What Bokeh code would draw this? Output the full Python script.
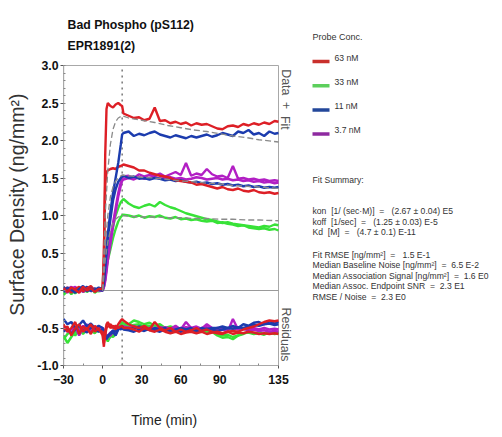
import subprocess
from bokeh.plotting import figure
from bokeh.models import Range1d, FixedTicker
from bokeh.core.properties import value
from bokeh.embed import file_html
from bokeh.resources import INLINE

try:
    _fc = subprocess.run(["fc-list"], capture_output=True, text=True).stdout
except Exception:
    _fc = ""
HAS_NARROW = "Liberation Sans Narrow" in _fc
NARROW = "Liberation Sans Narrow" if HAS_NARROW else "Liberation Sans"
SANS = "Liberation Sans"
K = 1.0 if HAS_NARROW else 0.82


def fs(px):
    return f"{px * K:.1f}px"


# ---------------- data ----------------
TIME = [-30, -27, -24, -21, -18, -15, -12, -9, -6, -3,
        0, 1, 2, 3, 4, 6, 8, 10, 12, 14, 15, 16,
        20, 24, 28, 32, 36, 40, 44, 48, 52, 56,
        60, 64, 68, 72, 76, 80, 84, 88, 92, 96,
        100, 104, 108, 112, 116, 120, 124, 128, 132, 135]

RED_1 = [0.03, -0.02, 0.04, 0.01, -0.03, 0.05, 0.00, 0.03, -0.02, 0.02,
         0.02, 0.40, 1.80, 2.42, 2.50, 2.46, 2.44, 2.48, 2.50, 2.47, 2.46, 2.36,
         2.33, 2.30, 2.31, 2.27, 2.29, 2.44, 2.26, 2.27, 2.23, 2.25,
         2.22, 2.24, 2.20, 2.23, 2.21, 2.22, 2.19, 2.16, 2.15, 2.19,
         2.20, 2.18, 2.22, 2.20, 2.23, 2.21, 2.24, 2.22, 2.26, 2.25]
RED_2 = [0.01, 0.04, -0.03, 0.02, 0.05, -0.01, 0.03, 0.06, 0.00, 0.03,
         0.03, 0.50, 1.40, 1.58, 1.60, 1.62, 1.63, 1.62, 1.65, 1.66, 1.67, 1.68,
         1.66, 1.64, 1.60, 1.60, 1.57, 1.55, 1.53, 1.52, 1.50, 1.47,
         1.46, 1.45, 1.44, 1.41, 1.42, 1.40, 1.38, 1.36, 1.38, 1.35,
         1.34, 1.36, 1.33, 1.32, 1.34, 1.31, 1.30, 1.31, 1.29, 1.30]
BLUE_1 = [-0.02, 0.04, 0.01, -0.03, 0.02, 0.06, -0.01, 0.03, 0.00, 0.04,
          0.02, 0.15, 0.35, 0.55, 0.75, 1.05, 1.30, 1.50, 1.70, 1.95, 2.08, 2.10,
          2.12, 2.06, 2.09, 2.07, 2.10, 2.12, 2.08, 2.06, 2.04, 2.07,
          2.05, 2.03, 2.06, 2.04, 2.06, 2.08, 2.05, 2.07, 2.10, 2.08,
          2.06, 2.12, 2.10, 2.14, 2.08, 2.10, 2.06, 2.12, 2.09, 2.10]
BLUE_2 = [0.05, 0.00, 0.03, -0.02, 0.04, 0.01, 0.05, -0.01, 0.03, 0.01,
          0.00, 0.10, 0.30, 0.50, 0.70, 0.95, 1.20, 1.35, 1.45, 1.50, 1.52, 1.53,
          1.50, 1.52, 1.49, 1.50, 1.48, 1.50, 1.49, 1.47, 1.48, 1.46,
          1.47, 1.45, 1.44, 1.45, 1.43, 1.44, 1.42, 1.43, 1.41, 1.42,
          1.40, 1.41, 1.39, 1.40, 1.38, 1.39, 1.37, 1.38, 1.37, 1.38]
MAG_1 = [0.02, -0.03, 0.03, 0.05, -0.02, 0.01, 0.04, -0.01, 0.02, 0.00,
         0.00, 0.05, 0.15, 0.30, 0.45, 0.70, 0.90, 1.10, 1.30, 1.45, 1.50, 1.52,
         1.53, 1.50, 1.55, 1.52, 1.54, 1.53, 1.56, 1.52, 1.55, 1.58,
         1.54, 1.70, 1.53, 1.56, 1.54, 1.62, 1.55, 1.52, 1.53, 1.50,
         1.66, 1.49, 1.50, 1.48, 1.49, 1.47, 1.48, 1.46, 1.47, 1.46]
MAG_2 = [-0.01, 0.02, 0.05, 0.00, 0.03, -0.02, 0.02, 0.04, -0.01, 0.01,
         0.00, 0.04, 0.12, 0.25, 0.40, 0.62, 0.85, 1.05, 1.25, 1.40, 1.46, 1.48,
         1.50, 1.48, 1.51, 1.49, 1.50, 1.52, 1.49, 1.50, 1.51, 1.49,
         1.50, 1.48, 1.49, 1.51, 1.50, 1.48, 1.49, 1.50, 1.48, 1.49,
         1.47, 1.48, 1.46, 1.47, 1.45, 1.46, 1.44, 1.45, 1.43, 1.44]
GREEN_1 = [-0.04, 0.02, -0.05, 0.01, 0.03, -0.02, 0.00, 0.04, -0.03, 0.01,
           0.00, 0.10, 0.25, 0.40, 0.50, 0.70, 0.85, 1.00, 1.10, 1.18, 1.20, 1.22,
           1.16, 1.12, 1.10, 1.13, 1.15, 1.12, 1.18, 1.14, 1.11, 1.09,
           1.06, 1.03, 1.01, 0.99, 0.97, 0.95, 0.94, 0.92, 0.90, 0.91,
           0.89, 0.88, 0.87, 0.86, 0.85, 0.84, 0.86, 0.85, 0.88, 0.87]
GREEN_2 = [-0.06, -0.01, 0.02, -0.04, 0.01, 0.03, -0.02, 0.02, 0.00, -0.01,
           0.00, 0.05, 0.15, 0.30, 0.40, 0.55, 0.70, 0.82, 0.92, 0.98, 1.00, 1.01,
           1.00, 0.98, 1.00, 0.97, 0.99, 0.98, 1.00, 0.97, 0.96, 0.98,
           0.95, 0.96, 0.94, 0.95, 0.93, 0.92, 0.93, 0.90, 0.91, 0.89,
           0.88, 0.86, 0.87, 0.84, 0.83, 0.82, 0.83, 0.81, 0.82, 0.80]

# residuals (plotted with offset, around -0.5)
RES_RED_1 = [-0.45, -0.55, -0.50, -0.42, -0.58, -0.48, -0.52, -0.45, -0.55, -0.50,
             -0.60, -0.75, -0.55, -0.45, -0.42, -0.50, -0.47, -0.52, -0.45, -0.40, -0.38, -0.40,
             -0.45, -0.48, -0.50, -0.47, -0.52, -0.42, -0.50, -0.53, -0.50, -0.55,
             -0.52, -0.55, -0.53, -0.50, -0.54, -0.52, -0.55, -0.57, -0.58, -0.55,
             -0.54, -0.55, -0.52, -0.50, -0.48, -0.45, -0.42, -0.40, -0.41, -0.40]
RES_RED_2 = [-0.52, -0.48, -0.60, -0.50, -0.45, -0.55, -0.50, -0.58, -0.47, -0.53,
             -0.55, -0.70, -0.60, -0.50, -0.48, -0.45, -0.50, -0.47, -0.50, -0.48, -0.47, -0.50,
             -0.50, -0.52, -0.55, -0.50, -0.53, -0.55, -0.52, -0.55, -0.57, -0.55,
             -0.58, -0.56, -0.55, -0.57, -0.55, -0.58, -0.56, -0.55, -0.57, -0.55,
             -0.58, -0.56, -0.57, -0.55, -0.56, -0.58, -0.57, -0.58, -0.57, -0.58]
RES_BLUE_1 = [-0.38, -0.45, -0.42, -0.50, -0.46, -0.40, -0.48, -0.44, -0.50, -0.47,
              -0.50, -0.55, -0.60, -0.62, -0.60, -0.58, -0.55, -0.60, -0.52, -0.50, -0.48, -0.50,
              -0.52, -0.50, -0.48, -0.50, -0.53, -0.50, -0.52, -0.50, -0.54, -0.52,
              -0.50, -0.52, -0.50, -0.53, -0.50, -0.52, -0.50, -0.50, -0.48, -0.50,
              -0.47, -0.50, -0.45, -0.47, -0.43, -0.42, -0.45, -0.41, -0.44, -0.42]
RES_BLUE_2 = [-0.55, -0.50, -0.58, -0.52, -0.47, -0.53, -0.56, -0.49, -0.52, -0.55,
              -0.52, -0.58, -0.62, -0.65, -0.62, -0.57, -0.53, -0.55, -0.50, -0.52, -0.50, -0.52,
              -0.53, -0.55, -0.52, -0.54, -0.51, -0.53, -0.55, -0.52, -0.54, -0.53,
              -0.55, -0.53, -0.52, -0.54, -0.53, -0.51, -0.52, -0.54, -0.52, -0.50,
              -0.51, -0.49, -0.50, -0.48, -0.46, -0.47, -0.45, -0.44, -0.46, -0.45]
RES_MAG_1 = [-0.50, -0.55, -0.52, -0.48, -0.60, -0.50, -0.45, -0.55, -0.50, -0.52,
             -0.52, -0.55, -0.60, -0.65, -0.62, -0.60, -0.55, -0.58, -0.50, -0.48, -0.47, -0.48,
             -0.50, -0.47, -0.52, -0.49, -0.51, -0.50, -0.53, -0.49, -0.51, -0.47,
             -0.52, -0.42, -0.50, -0.48, -0.51, -0.45, -0.50, -0.53, -0.52, -0.55,
             -0.38, -0.52, -0.50, -0.53, -0.50, -0.52, -0.50, -0.52, -0.51, -0.52]
RES_MAG_2 = [-0.48, -0.52, -0.57, -0.50, -0.53, -0.47, -0.55, -0.50, -0.53, -0.49,
             -0.50, -0.52, -0.57, -0.62, -0.60, -0.56, -0.54, -0.55, -0.50, -0.49, -0.48, -0.49,
             -0.50, -0.51, -0.49, -0.52, -0.50, -0.51, -0.49, -0.50, -0.52, -0.50,
             -0.51, -0.49, -0.50, -0.52, -0.50, -0.49, -0.51, -0.50, -0.52, -0.51,
             -0.50, -0.52, -0.51, -0.53, -0.52, -0.54, -0.53, -0.55, -0.54, -0.55]
RES_GREEN_1 = [-0.60, -0.70, -0.62, -0.55, -0.50, -0.58, -0.52, -0.56, -0.50, -0.55,
               -0.50, -0.55, -0.62, -0.65, -0.68, -0.60, -0.62, -0.58, -0.52, -0.45, -0.42, -0.44,
               -0.45, -0.40, -0.42, -0.45, -0.43, -0.47, -0.45, -0.50, -0.48, -0.50,
               -0.52, -0.50, -0.53, -0.52, -0.55, -0.53, -0.55, -0.60, -0.63, -0.62,
               -0.65, -0.60, -0.58, -0.55, -0.57, -0.56, -0.58, -0.55, -0.57, -0.56]
RES_GREEN_2 = [-0.65, -0.58, -0.55, -0.60, -0.52, -0.55, -0.50, -0.53, -0.57, -0.52,
               -0.55, -0.58, -0.60, -0.63, -0.65, -0.62, -0.58, -0.55, -0.50, -0.48, -0.46, -0.47,
               -0.48, -0.46, -0.45, -0.48, -0.47, -0.50, -0.48, -0.52, -0.50, -0.52,
               -0.53, -0.52, -0.54, -0.55, -0.54, -0.56, -0.55, -0.58, -0.60, -0.59,
               -0.62, -0.60, -0.57, -0.56, -0.58, -0.57, -0.59, -0.56, -0.58, -0.57]

# global fit curves
FIT_TIME = [0, 2, 4, 6, 8, 10, 12, 15, 20, 30, 40, 50, 60, 70, 80, 90, 100, 110, 120, 135]
FIT_HIGH = [0.00, 1.00, 1.60, 1.95, 2.15, 2.25, 2.30, 2.33, 2.30, 2.27,
            2.24, 2.20, 2.17, 2.14, 2.12, 2.09, 2.06, 2.04, 2.01, 1.98]
FIT_MID = [0.00, 0.60, 1.00, 1.25, 1.38, 1.46, 1.50, 1.54, 1.53, 1.51,
           1.50, 1.48, 1.46, 1.45, 1.43, 1.42, 1.40, 1.39, 1.38, 1.36]
FIT_LOW = [0.00, 0.40, 0.65, 0.80, 0.90, 0.95, 0.98, 1.00, 0.99, 0.98,
           0.98, 0.97, 0.97, 0.96, 0.96, 0.95, 0.95, 0.94, 0.94, 0.93]

X_MIN, X_MAX = -30, 135
Y_MIN, Y_MAX = -1.0, 3.0
INJECTION_END = 15
X_TICKS = [-30, 0, 30, 60, 90, 135]
X_MINOR = [-15, 15, 45, 75, 105, 120]
Y_TICKS = [-1.0, -0.5, 0.0, 0.5, 1.0, 1.5, 2.0, 2.5, 3.0]
Y_TICK_LABELS = ["-1.0", "-0.5", "0.0", "0.5", "1.0", "1.5", "2.0", "2.5", "3.0"]
Y_MINOR = [round(-1.0 + 0.1 * i, 1) for i in range(41)]

CONC_LABELS = ["63 nM", "33 nM", "11 nM", "3.7 nM"]
LEGEND_COLORS = ["#c9302c", "#5ccf5c", "#23479a", "#8e2aa0"]
RED, GREEN, BLUE, MAG = "#dd1f26", "#38e238", "#1c3cae", "#b21fc4"

NB = "\u00a0"
SUMMARY = [
    "kon" + NB * 2 + "[1/ (sec\u00b7M)]" + NB * 2 + "=" + NB * 3 + "(2.67 \u00b1 0.04) E5",
    "koff" + NB * 2 + "[1/sec]" + NB * 2 + "=" + NB * 3 + "(1.25 \u00b1 0.03) E-5",
    "Kd" + NB * 2 + "[M]" + NB * 2 + "=" + NB * 3 + "(4.7 \u00b1 0.1) E-11",
    "Fit RMSE [ng/mm\u00b2]" + NB * 2 + "=" + NB * 3 + "1.5 E-1",
    "Median Baseline Noise [ng/mm\u00b2]" + NB * 2 + "=" + NB * 2 + "6.5 E-2",
    "Median Association Signal [ng/mm\u00b2]" + NB * 2 + "=" + NB * 2 + "1.6 E0",
    "Median Assoc. Endpoint SNR" + NB * 2 + "=" + NB * 2 + "2.3 E1",
    "RMSE / Noise" + NB * 2 + "=" + NB * 2 + "2.3 E0",
]

# ---------------- layout geometry (pixels) ----------------
ORIGIN = 1                  # page offset of the canvas
W, H = 496, 434
BORDER_L = 63
FRAME_H = 365
BORDER_B = H - FRAME_H
PX_PER_MIN = 215 / 165      # plot box 215 px wide for 165 min
PX_PER_UNIT = 75            # plot box 300 px tall for 4 units
FRAME_W = W - BORDER_L
X_END = X_MIN + FRAME_W / PX_PER_MIN
Y_END = Y_MIN + FRAME_H / PX_PER_UNIT
PAGE_X0 = ORIGIN + BORDER_L                                   # page x of X_MIN
PAGE_YTOP = ORIGIN + FRAME_H - (Y_MAX - Y_MIN) * PX_PER_UNIT  # page y of Y_MAX


def dx(px):
    return X_MIN + (px - PAGE_X0) / PX_PER_MIN


def dy(py):
    return Y_MAX - (py - PAGE_YTOP) / PX_PER_UNIT


p = figure(width=W, height=H, x_range=Range1d(X_MIN, X_END), y_range=Range1d(Y_MIN, Y_END),
           output_backend="svg", toolbar_location=None, title=None,
           min_border_left=BORDER_L, min_border_right=0, min_border_top=0,
           min_border_bottom=BORDER_B)
p.xgrid.visible = False
p.ygrid.visible = False
p.outline_line_color = None
p.background_fill_color = "white"
p.border_fill_color = "white"

p.xaxis.ticker = FixedTicker(ticks=X_TICKS, minor_ticks=X_MINOR)
p.yaxis.ticker = FixedTicker(ticks=Y_TICKS, minor_ticks=Y_MINOR)
p.yaxis.major_label_overrides = {t: s for t, s in zip(Y_TICKS, Y_TICK_LABELS)}
for ax in (p.xaxis[0], p.yaxis[0]):
    ax.axis_line_color = None
    ax.major_tick_line_color = "#555555"
    ax.minor_tick_line_color = "#888888"
    ax.major_tick_out = 3
    ax.major_tick_in = 0
    ax.minor_tick_out = 0
    ax.minor_tick_in = 2
    ax.major_label_text_font = NARROW
    ax.major_label_text_font_style = "bold"
    ax.major_label_text_font_size = fs(15)
    ax.major_label_text_color = "#111111"
p.yaxis.major_label_standoff = 2
p.xaxis.major_label_standoff = 6

p.yaxis.axis_label = "Surface Density (ng/mm\u00b2)" + NB * 8
p.yaxis.axis_label_text_font = SANS
p.yaxis.axis_label_text_font_size = "19.5px"
p.yaxis.axis_label_text_font_style = "normal"
p.yaxis.axis_label_text_color = "#333333"
p.yaxis.axis_label_standoff = 6

# the x label is centred on the frame, which also spans the side panel:
# trailing no-break spaces move it back under the plot box
p.xaxis.axis_label = "Time (min)" + NB * 60
p.xaxis.axis_label_text_font = NARROW
p.xaxis.axis_label_text_font_size = fs(17)
p.xaxis.axis_label_text_font_style = "normal"
p.xaxis.axis_label_text_color = "#222222"
p.xaxis.axis_label_standoff = 25

# plot box, zero line and end-of-injection marker
p.segment(x0=[X_MIN, X_MIN], y0=[Y_MIN, Y_MIN], x1=[X_MIN, X_MAX], y1=[Y_MAX, Y_MIN],
          line_color="#555555", line_width=1.2)
p.segment(x0=[X_MIN, X_MAX], y0=[Y_MAX, Y_MIN], x1=[X_MAX, X_MAX], y1=[Y_MAX, Y_MAX],
          line_color="#a8a8a8", line_width=1)
p.segment(x0=[X_MIN], y0=[0], x1=[X_MAX], y1=[0], line_color="#9a9a9a", line_width=1.2)
p.segment(x0=[INJECTION_END], y0=[Y_MIN], x1=[INJECTION_END], y1=[Y_MAX],
          line_color="#555555", line_width=1.2, line_dash="dotted")

LW = 2.4
for series, col in [(RES_GREEN_1, GREEN), (RES_GREEN_2, GREEN), (RES_MAG_1, MAG), (RES_MAG_2, MAG),
                    (RES_BLUE_1, BLUE), (RES_BLUE_2, BLUE), (RES_RED_1, RED), (RES_RED_2, RED)]:
    p.line(TIME, series, line_color=col, line_width=LW)

for series, col in [(GREEN_2, GREEN), (GREEN_1, GREEN), (MAG_2, MAG), (MAG_1, MAG),
                    (BLUE_2, BLUE), (RED_2, RED), (BLUE_1, BLUE), (RED_1, RED)]:
    p.line(TIME, series, line_color=col, line_width=LW)

for fit in (FIT_HIGH, FIT_MID, FIT_LOW):
    p.line(FIT_TIME, fit, line_color="#8a8a8a", line_width=1.3, line_dash="6 3")

# title
p.text(x=[dx(68), dx(68)], y=[dy(25), dy(46)], text=["Bad Phospho (pS112)", "EPR1891(2)"],
       text_font=value(NARROW), text_font_style="bold", text_font_size=value(fs(15)),
       text_color="#111111", text_baseline="middle", text_align="left")

# panel labels on the right of the plot box
p.text(x=[dx(286), dx(286)], y=[dy(100), dy(335)],
       text=["Data" + NB * 2 + "+" + NB * 2 + "Fit", "Residuals"],
       text_font=value(NARROW), text_font_size=value(fs(15)), text_color="#555555",
       angle=-1.5708, text_baseline="middle", text_align="center")

# legend
LEG_X, LEG_Y0, LEG_DY = 313, 62, 24.2
p.text(x=[dx(LEG_X)], y=[dy(37)], text=["Probe Conc."], text_font=value(NARROW),
       text_font_size=value(fs(11)), text_color="#333333", text_baseline="middle")
leg_y = [dy(LEG_Y0 + i * LEG_DY) for i in range(len(CONC_LABELS))]
p.segment(x0=[dx(LEG_X)] * 4, x1=[dx(LEG_X + 17)] * 4, y0=leg_y, y1=leg_y,
          line_color=LEGEND_COLORS, line_width=3.5)
p.text(x=[dx(LEG_X + 22)] * 4, y=[dy(LEG_Y0 - 4 + i * LEG_DY) for i in range(4)],
       text=CONC_LABELS, text_font=value(NARROW), text_font_size=value(fs(10.5)),
       text_color="#333333", text_baseline="middle")

# fit summary
p.text(x=[dx(LEG_X)], y=[dy(180)], text=["Fit Summary:"], text_font=value(NARROW),
       text_font_size=value(fs(10.5)), text_color="#333333", text_baseline="middle")
SUM_PY = [211.7, 222.3, 232.5, 255, 265.5, 276, 286.5, 297]
p.text(x=[dx(LEG_X)] * len(SUMMARY), y=[dy(v) for v in SUM_PY], text=SUMMARY,
       text_font=value(NARROW), text_font_size=value(fs(10.5)), text_color="#333333",
       text_baseline="middle")

open("out.html", "w").write(file_html(p, INLINE))
